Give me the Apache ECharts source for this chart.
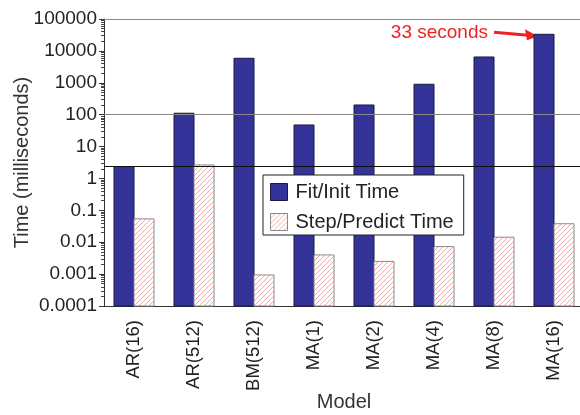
<!DOCTYPE html>
<html><head><meta charset="utf-8">
<script src="https://cdn.jsdelivr.net/npm/echarts@6/dist/echarts.min.js"></script>
<style>html,body{margin:0;padding:0;background:#fff}#c{width:580px;height:415px}</style>
</head><body><div id="c"></div>
<script>
const categories = ['AR(16)', 'AR(512)', 'BM(512)', 'MA(1)', 'MA(2)', 'MA(4)', 'MA(8)', 'MA(16)'];
const fitInitTime = [2.35, 111, 5860, 47.5, 201, 897, 6440, 33100];
const stepPredictTime = [0.054, 2.65, 0.00094, 0.0040, 0.0025, 0.0073, 0.0144, 0.038];
const seriesNames = ['Fit/Init Time', 'Step/Predict Time'];
const yMin = 0.0001, yMax = 100000;
const refLines = [100000, 100, 2.45];
const annotationCategory = 'MA(16)';
const annotationValue = 33100;
const annotationText = '33 seconds';

const FONT = 'Liberation Sans, Arial, sans-serif';
const HATCH = '#f29090';

// legend icon pattern
const pc = document.createElement('canvas'); pc.width = 5; pc.height = 5;
const g = pc.getContext('2d');
g.fillStyle = '#ffffff'; g.fillRect(0, 0, 5, 5);
g.strokeStyle = HATCH; g.lineWidth = 0.8;
g.beginPath();
g.moveTo(0, 5); g.lineTo(5, 0);
g.moveTo(-1, 1); g.lineTo(1, -1);
g.moveTo(4, 6); g.lineTo(6, 4);
g.stroke();
const hatch = {image: pc, repeat: 'repeat'};

// minor log ticks
const minorTicks = [];
for (let e = Math.log10(yMin); e < Math.log10(yMax); e++) {
  for (let k = 2; k <= 9; k++) minorTicks.push(+(k * Math.pow(10, e)).toPrecision(3));
}

function barGeom(api, k) {
  const i = api.value(0);
  const top = api.coord([i, api.value(1)]);
  const base = api.coord([i, yMin]);
  const w = api.size([1, 0])[0] / 3;
  return {x: top[0] - w + k * w, y: top[1], w: w, h: base[1] - top[1]};
}
function renderFit(params, api) {
  const b = barGeom(api, 0);
  return {type: 'rect', shape: {x: b.x, y: b.y, width: b.w, height: b.h},
    style: {fill: '#333399', stroke: '#1a1a40', lineWidth: 1}};
}
function renderStep(params, api) {
  const b = barGeom(api, 1);
  const x0 = b.x, x1 = b.x + b.w, y0 = b.y, y1 = b.y + b.h;
  const children = [{type: 'rect', shape: {x: x0, y: y0, width: b.w, height: b.h}, style: {fill: '#fff'}}];
  for (let c = Math.ceil((x0 + y0) / 5) * 5; c < x1 + y1; c += 5) {
    const ax = Math.max(x0, c - y1), bx = Math.min(x1, c - y0);
    if (bx <= ax) continue;
    children.push({type: 'line', shape: {x1: ax, y1: c - ax, x2: bx, y2: c - bx}, style: {stroke: HATCH, lineWidth: 0.8}});
  }
  children.push({type: 'rect', shape: {x: x0, y: y0, width: b.w, height: b.h}, style: {fill: 'none', stroke: '#8a8a8a', lineWidth: 1}});
  return {type: 'group', children: children};
}

const chart = echarts.init(document.getElementById('c'), null, {renderer: 'canvas'});
function fmt(v) {
  const e = Math.round(Math.log10(v));
  return e < 0 ? v.toFixed(-e) : String(Math.round(v));
}
const yCommon = {type: 'log', logBase: 10, min: yMin, max: yMax};
chart.setOption({
  animation: false,
  textStyle: {fontFamily: FONT},
  grid: {left: 104, top: 19, width: 480, height: 287, outerBoundsMode: 'none', containLabel: false},
  legend: {
    orient: 'vertical', left: 263, top: 175,
    itemWidth: 17, itemHeight: 17, itemGap: 10,
    padding: [7, 10, 3, 7],
    borderColor: '#222', borderWidth: 1, backgroundColor: '#fff',
    textStyle: {fontSize: 20, color: '#222', fontFamily: FONT, padding: [0, 0, 0, 3]},
    data: [
      {name: seriesNames[0], icon: 'rect', itemStyle: {color: '#333399', borderColor: '#1a1a40', borderWidth: 1}},
      {name: seriesNames[1], icon: 'rect', itemStyle: {color: hatch, borderColor: '#888', borderWidth: 1}}
    ]
  },
  xAxis: {
    type: 'category', data: categories,
    name: 'Model', nameLocation: 'middle', nameGap: 86, nameMoveOverlap: false,
    nameTextStyle: {fontSize: 20, color: '#333', fontFamily: FONT},
    axisLine: {lineStyle: {color: '#333', width: 1}},
    axisTick: {length: 5, lineStyle: {color: '#333'}},
    axisLabel: {rotate: 90, fontSize: 18.5, color: '#222', margin: 14, fontFamily: FONT}
  },
  yAxis: [
    Object.assign({}, yCommon, {
      name: 'Time (milliseconds)', nameLocation: 'middle', nameGap: 72, nameMoveOverlap: false,
      nameTextStyle: {fontSize: 20, color: '#333', fontFamily: FONT},
      axisLine: {show: true, lineStyle: {color: '#333', width: 1}},
      axisTick: {show: true, length: 5, lineStyle: {color: '#333'}},
      splitLine: {show: false},
      axisLabel: {fontSize: 19, color: '#222', margin: 7, fontFamily: FONT, formatter: fmt}
    }),
    Object.assign({}, yCommon, {
      position: 'left', offset: 0,
      axisLine: {show: false},
      axisTick: {show: true, length: 3, customValues: minorTicks, lineStyle: {color: '#444'}},
      axisLabel: {show: false},
      splitLine: {show: false}
    })
  ],
  series: [
    {
      name: seriesNames[0], type: 'custom',
      data: categories.map((c, i) => [i, fitInitTime[i]]),
      encode: {x: 0, y: 1},
      itemStyle: {color: '#333399'},
      renderItem: renderFit,
      markLine: {
        silent: true, symbol: 'none', label: {show: false}, animation: false,
        data: refLines.map((v, i) => ({yAxis: v, lineStyle: {type: 'solid', width: 1, color: i === 2 ? '#111' : '#888'}}))
      },
      z: 2
    },
    {
      name: seriesNames[1], type: 'custom',
      data: categories.map((c, i) => [i, stepPredictTime[i]]),
      encode: {x: 0, y: 1},
      itemStyle: {color: HATCH},
      renderItem: renderStep,
      z: 2
    }
  ]
});

const tip = chart.convertToPixel({gridIndex: 0}, [annotationCategory, annotationValue]);
const ax = tip[0] - 16, ay = tip[1] + 2;
const sx = ax - 44, sy = ay - 4;
chart.setOption({
  graphic: [
    {type: 'text', style: {text: annotationText, x: sx - 6, y: sy, align: 'right', verticalAlign: 'middle', fill: '#ee2222', font: '19px ' + FONT}},
    {type: 'line', shape: {x1: sx, y1: sy, x2: ax - 10, y2: ay - 1}, style: {stroke: '#ee2222', lineWidth: 3}},
    {type: 'polygon', shape: {points: [[ax, ay], [ax - 13, ay - 7], [ax - 11, ay + 4]]}, style: {fill: '#ee2222'}}
  ]
});
</script>
</body></html>
